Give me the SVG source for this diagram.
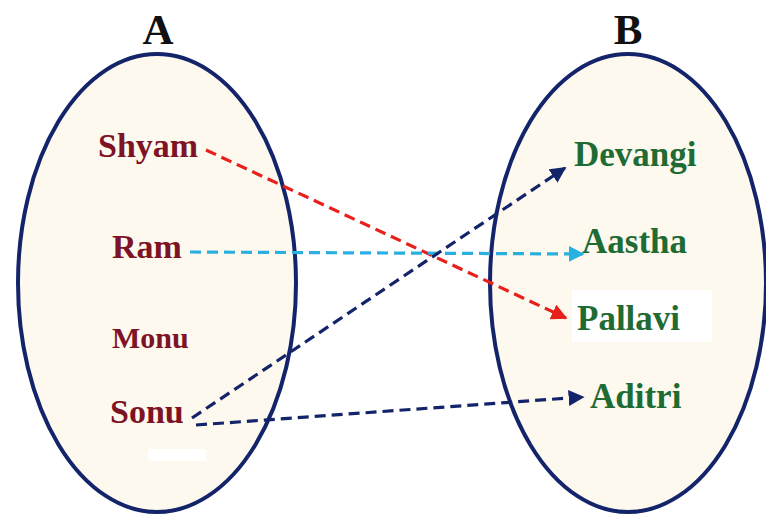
<svg xmlns="http://www.w3.org/2000/svg" width="766" height="519" viewBox="0 0 766 519">
<defs>
<style>
.set{fill:#fdf9ef;stroke:#14246a;stroke-width:4}
.title{font-family:"Liberation Serif",serif;font-weight:bold;font-size:43px;fill:#111}
.a{font-family:"Liberation Serif",serif;font-weight:bold;font-size:34px;fill:#7d1325}
.b{font-family:"Liberation Serif",serif;font-weight:bold;font-size:35px;fill:#1f6b34}
.ln{fill:none;stroke-width:3.2;stroke-dasharray:11 6}
</style>
<marker id="mr" viewBox="0 0 10 10" refX="9" refY="5" markerWidth="5" markerHeight="5" orient="auto" markerUnits="strokeWidth"><path d="M0,0L10,5L0,10z" fill="#e8201c"/></marker>
<marker id="mc" viewBox="0 0 10 10" refX="9" refY="5" markerWidth="5" markerHeight="5" orient="auto" markerUnits="strokeWidth"><path d="M0,0L10,5L0,10z" fill="#2ab0e0"/></marker>
<marker id="mn" viewBox="0 0 10 10" refX="9" refY="5" markerWidth="5" markerHeight="5" orient="auto" markerUnits="strokeWidth"><path d="M0,0L10,5L0,10z" fill="#14246a"/></marker>
</defs>
<rect width="766" height="519" fill="#ffffff"/>
<g id="setA">
<ellipse class="set" cx="157" cy="283" rx="139" ry="229"/>
<text class="title" x="158" y="44" text-anchor="middle">A</text>
</g>
<g id="setB">
<ellipse class="set" cx="628" cy="283" rx="138" ry="229"/>
<text class="title" x="628" y="44" text-anchor="middle">B</text>
</g>
<rect x="572" y="290" width="140" height="52" fill="#ffffff"/>
<rect x="148" y="449" width="58" height="12" fill="#ffffff"/>
<g id="shyam"><text class="a" x="98" y="157">Shyam</text></g>
<g id="ram"><text class="a" x="112" y="258">Ram</text></g>
<g id="monu"><text class="a" x="112" y="348" style="font-size:30px">Monu</text></g>
<g id="sonu"><text class="a" x="110" y="423">Sonu</text></g>
<g id="devangi"><text class="b" x="574" y="166">Devangi</text></g>
<g id="aastha"><text class="b" x="582" y="253">Aastha</text></g>
<g id="pallavi"><text class="b" x="577" y="330">Pallavi</text></g>
<g id="aditri"><text class="b" x="590" y="408">Aditri</text></g>
<g id="connectors">
<path class="ln" d="M206,150 L566,318" stroke="#e8201c" marker-end="url(#mr)"/>
<path class="ln" d="M190,252 L583,254" stroke="#2ab0e0" marker-end="url(#mc)"/>
<path class="ln" d="M192,418 L565,168" stroke="#14246a" marker-end="url(#mn)"/>
<path class="ln" d="M196,425 L583,397" stroke="#14246a" marker-end="url(#mn)"/>
</g>
</svg>
